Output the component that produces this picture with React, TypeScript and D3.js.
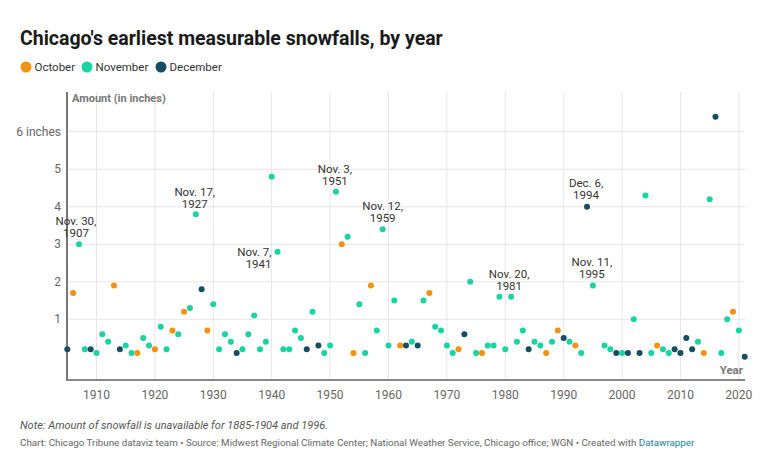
import React from "react";
import * as d3 from "d3";

const years = [1905,1906,1907,1908,1909,1910,1911,1912,1913,1914,1915,1916,1917,1918,1919,1920,1921,1922,1923,1924,1925,1926,1927,1928,1929,1930,1931,1932,1933,1934,1935,1936,1937,1938,1939,1940,1941,1942,1943,1944,1945,1946,1947,1948,1949,1950,1951,1952,1953,1954,1955,1956,1957,1958,1959,1960,1961,1962,1963,1964,1965,1966,1967,1968,1969,1970,1971,1972,1973,1974,1975,1976,1977,1978,1979,1980,1981,1982,1983,1984,1985,1986,1987,1988,1989,1990,1991,1992,1993,1994,1995,1997,1998,1999,2000,2001,2002,2003,2004,2005,2006,2007,2008,2009,2010,2011,2012,2013,2014,2015,2016,2017,2018,2019,2020,2021];
const inches = [0.2,1.7,3.0,0.2,0.2,0.1,0.6,0.4,1.9,0.2,0.3,0.1,0.1,0.5,0.3,0.2,0.8,0.2,0.7,0.6,1.2,1.3,3.8,1.8,0.7,1.4,0.2,0.6,0.4,0.1,0.2,0.6,1.1,0.2,0.4,4.8,2.8,0.2,0.2,0.7,0.5,0.2,1.2,0.3,0.1,0.3,4.4,3.0,3.2,0.1,1.4,0.1,1.9,0.7,3.4,0.3,1.5,0.3,0.3,0.4,0.3,1.5,1.7,0.8,0.7,0.3,0.1,0.2,0.6,2.0,0.1,0.1,0.3,0.3,1.6,0.2,1.6,0.4,0.7,0.2,0.4,0.3,0.1,0.4,0.7,0.5,0.4,0.3,0.1,4.0,1.9,0.3,0.2,0.1,0.1,0.1,1.0,0.1,4.3,0.1,0.3,0.2,0.1,0.2,0.1,0.5,0.2,0.4,0.1,4.2,6.4,0.1,1.0,1.2,0.7,0.0];
// O = October, N = November, D = December (one letter per year above)
const months = [
  "DONNDNNNOD", // 1905-1914
  "NNONNONNON", // 1915-1924
  "ONNDONNNND", // 1925-1934
  "NNNNNNNNNN", // 1935-1944
  "NDNDNNNONO", // 1945-1954
  "NNONNNNODN", // 1955-1964
  "DNONNNNODN", // 1965-1974
  "NONNNNNNND", // 1975-1984
  "NNONODNOND", // 1985-1994
  "NNNDNDNDNN", // 1995, 1997-2005
  "ONNDDDDNON", // 2006-2015
  "DNNOND",     // 2016-2021
].join("").split("");

const monthNames: Record<string, string> = { O: "October", N: "November", D: "December" };
const legendKeys = ["O", "N", "D"];
const yTicks = [1, 2, 3, 4, 5, 6];
const xTicks = [1910, 1920, 1930, 1940, 1950, 1960, 1970, 1980, 1990, 2000, 2010, 2020];

const annoYears = [1907, 1927, 1941, 1951, 1959, 1981, 1994, 1995];
const annoLines = [
  ["Nov. 30,", "1907"],
  ["Nov. 17,", "1927"],
  ["Nov. 7,", "1941"],
  ["Nov. 3,", "1951"],
  ["Nov. 12,", "1959"],
  ["Nov. 20,", "1981"],
  ["Dec. 6,", "1994"],
  ["Nov. 11,", "1995"],
];

const colors: Record<string, string> = { O: "#f39212", N: "#19d3a2", D: "#174c62" };
// annotation placement (style)
const annoStyle: Record<number, { dx: number; dy: number; anchor: string }> = {
  1907: { dx: -3, dy: -19.5, anchor: "middle" },
  1927: { dx: -1, dy: -18.5, anchor: "middle" },
  1941: { dx: -6, dy: 4, anchor: "end" },
  1951: { dx: -1, dy: -19, anchor: "middle" },
  1959: { dx: 0, dy: -19.5, anchor: "middle" },
  1981: { dx: -2, dy: -19, anchor: "middle" },
  1994: { dx: -1, dy: -20, anchor: "middle" },
  1995: { dx: -1, dy: -20, anchor: "middle" },
};

export default function App() {
  const W = 770, H = 474;
  const left = 67, right = 745, top = 92, bottom = 380;
  const x = d3.scaleLinear().domain([1905, 2021]).range([left + 0.3, right - 0.3]);
  const y = d3.scaleLinear().domain([-0.618, 7.06]).range([bottom, top]);
  const font = "Roboto, 'Noto Sans', sans-serif";
  const data = years.map((yr, i) => ({ yr, v: inches[i], m: months[i] }));
  const legendOffsets = [26, 87, 161];

  return (
    <svg width={W} height={H} style={{ display: "block", position: "absolute", left: 0, top: 0, background: "#fff" }} fontFamily={font}>
      <rect x={0} y={0} width={W} height={H} fill="#fff" />
      <text x={20} y={45} fontSize={19.5} fontWeight={700} fill="#1a1a1a">
        Chicago's earliest measurable snowfalls, by year
      </text>
      {/* legend */}
      {legendKeys.map((k, i) => (
        <g key={k} transform={`translate(${legendOffsets[i]},67)`}>
          <circle cx={0} cy={0} r={5.5} fill={colors[k]} />
          <text x={8.5} y={4} fontSize={11.5} fill="#333">{monthNames[k]}</text>
        </g>
      ))}
      {/* gridlines */}
      {yTicks.map((t) => (
        <line key={"gy" + t} x1={left} x2={right} y1={y(t)} y2={y(t)} stroke="#e6e6e6" strokeWidth={1} />
      ))}
      {xTicks.map((t) => (
        <line key={"gx" + t} x1={x(t)} x2={x(t)} y1={top} y2={bottom} stroke="#e6e6e6" strokeWidth={1} />
      ))}
      {/* y tick labels */}
      {yTicks.map((t) => (
        <text key={"ty" + t} x={61} y={y(t) + 4} fontSize={12} fill="#666" textAnchor="end">
          {t === 6 ? "6 inches" : String(t)}
        </text>
      ))}
      {/* x tick labels */}
      {xTicks.map((t) => (
        <text key={"tx" + t} x={x(t)} y={399} fontSize={12} fill="#666" textAnchor="middle">
          {t}
        </text>
      ))}
      {/* axis lines */}
      <line x1={left} x2={left} y1={top} y2={bottom + 1} stroke="#777" strokeWidth={2} />
      <line x1={left} x2={right} y1={bottom} y2={bottom} stroke="#888" strokeWidth={2} />
      <text x={72} y={102} fontSize={11} fontWeight={700} fill="#777">Amount (in inches)</text>
      <text x={743} y={374} fontSize={11.5} fontWeight={700} fill="#777" textAnchor="end">Year</text>
      {/* points */}
      {data.map((d) => (
        <circle key={d.yr} cx={x(d.yr)} cy={y(d.v)} r={3} fill={colors[d.m]} />
      ))}
      {/* annotations */}
      {annoYears.map((yr, i) => {
        const idx = years.indexOf(yr);
        const s = annoStyle[yr];
        const px = x(yr) + s.dx;
        const py = y(inches[idx]) + s.dy;
        return (
          <text key={"a" + yr} x={px} y={py} fontSize={11.5} fill="#333" textAnchor={s.anchor as any}>
            {annoLines[i].map((ln, j) => (
              <tspan key={j} x={px} dy={j === 0 ? 0 : 12}>{ln}</tspan>
            ))}
          </text>
        );
      })}
      {/* footer */}
      <text x={20} y={429} fontSize={11} fontStyle="italic" fill="#555">
        Note: Amount of snowfall is unavailable for 1885-1904 and 1996.
      </text>
      <text x={20} y={446} fontSize={9.8} fill="#666">
        Chart: Chicago Tribune dataviz team • Source: Midwest Regional Climate Center; National Weather Service, Chicago office; WGN • Created with{" "}
        <tspan fill="#1d81a2">Datawrapper</tspan>
      </text>
    </svg>
  );
}
